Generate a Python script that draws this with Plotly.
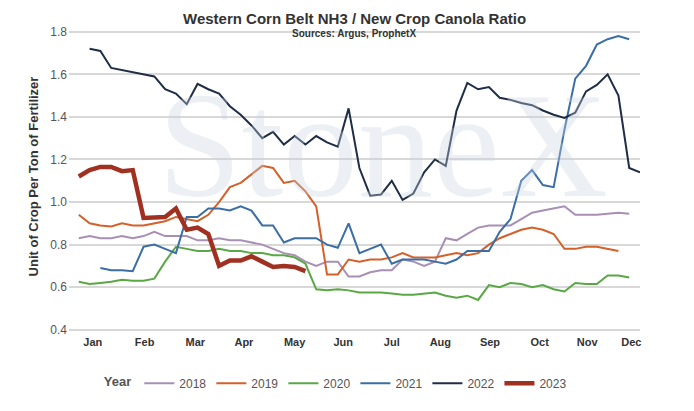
import plotly.graph_objects as go

years = ["2018", "2019", "2020", "2021", "2022", "2023"]
colors = ["#a88fb4", "#d4602a", "#5aa845", "#3a6ea5", "#1f2d45", "#a03020"]
widths = [2, 2, 2, 2, 2, 4.5]

v2018 = [0.83,0.84,0.83,0.83,0.84,0.83,0.84,0.86,0.84,0.84,0.84,0.82,0.82,0.83,0.82,0.82,0.81,0.80,0.78,0.76,0.75,0.72,0.70,0.72,0.72,0.65,0.65,0.67,0.68,0.68,0.73,0.72,0.70,0.72,0.83,0.82,0.85,0.88,0.89,0.89,0.89,0.92,0.95,0.96,0.97,0.98,0.94,0.94,0.94,0.945,0.95,0.945]
v2019 = [0.94,0.90,0.89,0.885,0.90,0.89,0.89,0.90,0.91,0.93,0.92,0.91,0.94,1.00,1.07,1.09,1.13,1.17,1.16,1.09,1.10,1.05,0.98,0.66,0.66,0.73,0.72,0.73,0.73,0.74,0.76,0.74,0.74,0.74,0.75,0.76,0.75,0.76,0.80,0.83,0.85,0.87,0.88,0.87,0.85,0.78,0.78,0.79,0.79,0.78,0.77]
v2020 = [0.625,0.615,0.62,0.625,0.635,0.63,0.63,0.64,0.72,0.79,0.78,0.77,0.77,0.78,0.77,0.77,0.76,0.76,0.75,0.75,0.74,0.71,0.59,0.585,0.59,0.585,0.575,0.575,0.575,0.57,0.565,0.565,0.57,0.575,0.56,0.55,0.56,0.54,0.61,0.60,0.62,0.615,0.60,0.61,0.59,0.58,0.62,0.615,0.615,0.655,0.655,0.645]
v2021 = [0.69,0.68,0.68,0.675,0.79,0.80,0.78,0.76,0.93,0.93,0.97,0.97,0.96,0.98,0.96,0.89,0.89,0.81,0.83,0.83,0.83,0.80,0.785,0.90,0.76,0.78,0.80,0.71,0.73,0.73,0.73,0.72,0.71,0.73,0.77,0.77,0.77,0.86,0.92,1.10,1.15,1.08,1.07,1.34,1.58,1.64,1.74,1.765,1.78,1.765]
v2022 = [1.72,1.71,1.63,1.62,1.61,1.60,1.59,1.53,1.51,1.46,1.555,1.53,1.51,1.45,1.41,1.36,1.30,1.33,1.27,1.31,1.27,1.31,1.28,1.26,1.44,1.16,1.03,1.035,1.10,1.01,1.04,1.14,1.20,1.17,1.43,1.56,1.53,1.54,1.49,1.48,1.465,1.455,1.43,1.41,1.395,1.42,1.52,1.55,1.60,1.50,1.16,1.14]
v2023 = [1.12,1.15,1.165,1.165,1.145,1.15,0.925,0.925,0.93,0.97,0.87,0.88,0.85,0.70,0.725,0.725,0.745,0.72,0.695,0.70,0.695,0.675]
starts = [1, 1, 1, 3, 2, 1]
series = [v2018, v2019, v2020, v2021, v2022, v2023]

months = ["Jan","Feb","Mar","Apr","May","Jun","Jul","Aug","Sep","Oct","Nov","Dec"]
month_weeks = [2.3,7.1,11.8,16.3,21.0,25.5,30.0,34.5,39.1,43.7,48.1,52.2]

fig = go.Figure()
for y, c, w, s, v in zip(years, colors, widths, starts, series):
    fig.add_trace(go.Scatter(x=list(range(s, s+len(v))), y=v, name=y, mode="lines",
                             line=dict(color=c, width=w)))

fig.add_annotation(text="StoneX", x=0.55, y=0.6, xref="paper", yref="paper", showarrow=False,
                   font=dict(family="Liberation Serif", size=150, color="rgba(200,208,222,0.35)"))
fig.add_annotation(text="<b>Western Corn Belt NH3 / New Crop Canola Ratio</b>", x=0.5, y=1.0, yshift=1,
                   xref="paper", yref="paper", xanchor="center", yanchor="middle", showarrow=False,
                   font=dict(family="Liberation Sans", size=15, color="#333"))
fig.add_annotation(text="<b>Sources: Argus, ProphetX</b>", x=0.5, y=1.0, yshift=-14,
                   xref="paper", yref="paper", xanchor="center", yanchor="middle", showarrow=False,
                   font=dict(family="Liberation Sans", size=10, color="#333"))

fig.update_layout(
    width=694, height=411, plot_bgcolor="white", paper_bgcolor="white",
    margin=dict(l=60, r=62, t=11, b=85),
    font=dict(family="Liberation Sans", color="#444"),
    xaxis=dict(range=[0, 53], tickvals=month_weeks, ticktext=[f"<b>{m}</b>" for m in months],
               showgrid=False, showline=False, tickfont=dict(size=11, color="#333"), ticks=""),
    yaxis=dict(range=[0.38, 1.86], dtick=0.2, tickformat=".1f", gridcolor="#d8d8d8", gridwidth=1.5,
               zeroline=False, tickfont=dict(size=12, color="#555"), automargin=False,
               title=dict(text="<b>Unit of Crop Per Ton of Fertilizer</b>", font=dict(size=13, color="#333"), standoff=8)),
    legend=dict(orientation="h", x=0.47, xanchor="center", y=-0.11, yanchor="top", itemwidth=30,
                title=dict(text="<b>Year</b>", font=dict(size=13)), font=dict(size=12, color="#555")),
)
fig.write_html("out.html")
